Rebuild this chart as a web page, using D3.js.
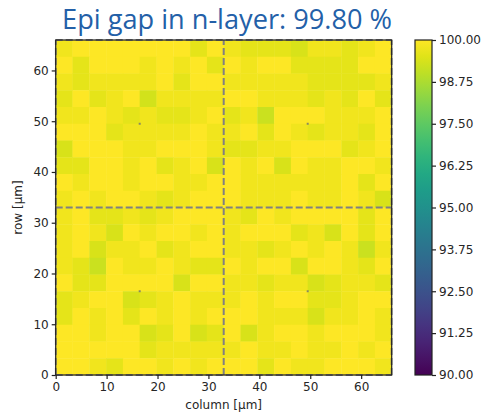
<!DOCTYPE html>
<html>
<head>
<meta charset="utf-8">
<script src="https://cdn.jsdelivr.net/npm/d3@7"></script>
<style>
  html, body { margin: 0; padding: 0; background: #fff; }
  svg { display: block; }
</style>
</head>
<body>
<svg id="chart" width="485" height="417"></svg>
<script>
// ---- data (rows listed top to bottom: row 66 µm down to 0 µm) ----
const titleText = "Epi gap in n-layer: 99.80 %";
const cellSize = 3.3;            // µm per cell
const extent = [0, 66];          // µm
const axisTicks = [0, 10, 20, 30, 40, 50, 60];
const colorDomain = [90, 100];
const colorbarTicks = [90, 91.25, 92.5, 93.75, 95, 96.25, 97.5, 98.75, 100];
const dividerPositions = [0, 33, 66];
const markerPoints = [[16.5, 49.5], [49.5, 49.5], [16.5, 16.5], [49.5, 16.5]];
const gapValues = [
  [99.8,100,100,100,100,100,100,100,99.6,100, 99.8,99.6,99.6,99.6,99.4,99.8,99.8,99.6,99.8,100],
  [100,99.6,100,100,100,99.8,100,99.8,100,99.6, 100,99.8,100,100,99.6,99.6,99.6,99.6,100,100],
  [99.8,99.6,99.8,99.8,99.8,99.8,100,99.6,100,100, 99.8,99.8,99.8,99.8,99.8,99.6,99.6,99.6,99.6,99.8],
  [99.6,100,99.6,99.8,100,99.3,99.8,99.8,99.8,99.8, 100,100,99.8,99.8,99.8,99.6,99.8,99.6,100,99.6],
  [99.8,99.8,100,99.8,99.6,99.8,99.6,99.6,99.8,100, 99.6,99.8,99.2,100,100,100,99.8,99.8,99.8,100],
  [100,100,100,99.6,99.8,99.8,99.8,99.8,100,99.8, 99.8,100,99.6,100,99.8,99.6,99.8,99.8,99.6,100],
  [99.4,100,100,100,99.8,99.8,100,100,100,99.8, 99.6,99.6,99.8,99.8,100,100,100,99.6,99.8,100],
  [99.6,99.6,100,100,99.8,100,99.6,99.8,100,99.4, 100,99.8,100,99.4,100,99.8,99.8,100,100,99.8],
  [100,99.8,100,100,99.8,100,100,99.8,99.8,100, 100,99.8,99.8,99.8,99.8,99.8,99.8,100,99.6,100],
  [99.8,100,99.8,100,100,99.8,99.6,99.8,100,100, 100,99.8,99.8,99.8,100,99.8,99.8,100,99.8,99.4],
  [99.8,100,99.6,99.6,99.8,99.6,99.8,100,100,100, 99.8,99.6,100,99.8,100,100,100,100,99.6,100],
  [99.8,100,99.8,99.4,100,99.8,100,100,99.8,100, 99.8,100,100,100,99.6,99.8,99.4,100,99.6,100],
  [99.8,100,99.4,99.8,99.8,100,99.6,99.8,100,100, 99.8,99.8,99.6,99.8,100,99.8,100,99.8,99.2,99.8],
  [99.8,99.6,99.2,100,99.8,99.8,100,99.8,99.6,99.6, 100,99.8,100,100,99.4,100,100,99.8,99.6,100],
  [100,99.6,99.6,100,100,100,100,99.4,100,100, 99.8,99.8,99.6,99.8,99.8,99.4,99.6,99.8,99.8,99.6],
  [99.6,99.8,100,100,99.4,99.6,99.8,100,99.8,99.8, 99.8,100,99.8,100,100,99.6,99.6,99.8,100,100],
  [99.6,100,99.8,100,99.6,100,99.8,100,99.8,100, 100,100,99.8,99.8,99.8,99.4,99.8,99.8,100,99.8],
  [100,100,99.8,100,100,99.4,99.6,100,99.4,99.6, 100,99.4,99.8,100,100,99.8,100,100,100,99.8],
  [100,100,100,100,100,99.6,99.8,99.8,99.8,99.8, 99.8,100,99.8,99.8,100,99.8,99.8,100,99.8,100],
  [100,100,99.8,99.6,100,100,99.8,100,99.8,100, 100,100,99.6,100,99.8,99.8,100,100,100,99.8]
];

// ---- layout ----
const svg = d3.select("#chart");
const plot = { left: 55.7, right: 391.7, top: 40, bottom: 375 };
const x = d3.scaleLinear().domain(extent).range([plot.left, plot.right]);
const y = d3.scaleLinear().domain(extent).range([plot.bottom, plot.top]);
const color = d3.scaleSequential(d3.interpolateViridis).domain(colorDomain);
const tickFont = "DejaVu Sans, sans-serif";
const textColor = "#262626";

// cells
const nRows = gapValues.length;
const cells = [];
gapValues.forEach((row, r) => row.forEach((v, c) => {
  cells.push({ x0: c * cellSize, x1: (c + 1) * cellSize,
               y1: (nRows - r) * cellSize, y0: (nRows - r - 1) * cellSize, v });
}));
svg.append("g").selectAll("rect").data(cells).join("rect")
  .attr("x", d => x(d.x0))
  .attr("y", d => y(d.y1))
  .attr("width", d => x(d.x1) - x(d.x0) + 0.4)
  .attr("height", d => y(d.y0) - y(d.y1) + 0.4)
  .attr("fill", d => color(d.v));

// clip for dashed lines
svg.append("clipPath").attr("id", "plotclip").append("rect")
  .attr("x", plot.left - 1).attr("y", plot.top - 1)
  .attr("width", plot.right - plot.left + 2).attr("height", plot.bottom - plot.top + 2);

const dashG = svg.append("g").attr("clip-path", "url(#plotclip)");
dividerPositions.forEach(p => {
  dashG.append("line")
    .attr("x1", x(p)).attr("x2", x(p)).attr("y1", y(0)).attr("y2", y(66))
    .attr("stroke", "#808080").attr("stroke-width", 2).attr("stroke-dasharray", "7,3");
  dashG.append("line")
    .attr("y1", y(p)).attr("y2", y(p)).attr("x1", x(0)).attr("x2", x(66))
    .attr("stroke", "#808080").attr("stroke-width", 2).attr("stroke-dasharray", "7,3");
});

// marker dots
svg.append("g").selectAll("rect").data(markerPoints).join("rect")
  .attr("x", d => x(d[0]) - 1).attr("y", d => y(d[1]) - 1)
  .attr("width", 2).attr("height", 2).attr("fill", "#8a8a60");

// spines
svg.append("rect")
  .attr("x", plot.left).attr("y", plot.top)
  .attr("width", plot.right - plot.left).attr("height", plot.bottom - plot.top)
  .attr("fill", "none").attr("stroke", "#222").attr("stroke-width", 1.2);

// axes
const xAxis = svg.append("g").attr("transform", `translate(0,${plot.bottom})`)
  .call(d3.axisBottom(x).tickValues(axisTicks).tickSize(4).tickPadding(3).tickFormat(d3.format("d")));
const yAxis = svg.append("g").attr("transform", `translate(${plot.left},0)`)
  .call(d3.axisLeft(y).tickValues(axisTicks).tickSize(4).tickPadding(3).tickFormat(d3.format("d")));
[xAxis, yAxis].forEach(a => {
  a.select(".domain").remove();
  a.selectAll("line").attr("stroke", "#222").attr("stroke-width", 1.2);
  a.selectAll("text").attr("font-family", tickFont).attr("font-size", 12).attr("fill", textColor);
});

// axis labels
svg.append("text").attr("x", x(33)).attr("y", 409)
  .attr("text-anchor", "middle").attr("font-family", tickFont).attr("font-size", 12)
  .attr("fill", textColor).text("column [µm]");
svg.append("text").attr("transform", `translate(22,${y(33)}) rotate(-90)`)
  .attr("text-anchor", "middle").attr("font-family", tickFont).attr("font-size", 12)
  .attr("fill", textColor).text("row [µm]");

// colorbar
const cb = { left: 415, right: 432, top: 40, bottom: 375 };
const cy = d3.scaleLinear().domain(colorDomain).range([cb.bottom, cb.top]);
const grad = svg.append("defs").append("linearGradient").attr("id", "cbgrad")
  .attr("x1", 0).attr("y1", 1).attr("x2", 0).attr("y2", 0);
d3.range(0, 1.0001, 0.05).forEach(t => {
  grad.append("stop").attr("offset", t)
    .attr("stop-color", color(colorDomain[0] + t * (colorDomain[1] - colorDomain[0])));
});
svg.append("rect").attr("x", cb.left).attr("y", cb.top)
  .attr("width", cb.right - cb.left).attr("height", cb.bottom - cb.top)
  .attr("fill", "url(#cbgrad)").attr("stroke", "#222").attr("stroke-width", 1.2);
const cAxis = svg.append("g").attr("transform", `translate(${cb.right},0)`)
  .call(d3.axisRight(cy).tickValues(colorbarTicks).tickSize(4).tickPadding(3).tickFormat(d3.format(".2f")));
cAxis.select(".domain").remove();
cAxis.selectAll("line").attr("stroke", "#222").attr("stroke-width", 1.2);
cAxis.selectAll("text").attr("font-family", tickFont).attr("font-size", 12).attr("fill", textColor);

// title
const title = svg.append("text").attr("x", 227).attr("y", 29)
  .attr("text-anchor", "middle").attr("font-family", "Open Sans, sans-serif")
  .attr("font-size", 24).attr("fill", "#2360a8").text(titleText);
const w = title.node().getComputedTextLength();
title.attr("font-size", 24 * 330 / w);
</script>
</body>
</html>
